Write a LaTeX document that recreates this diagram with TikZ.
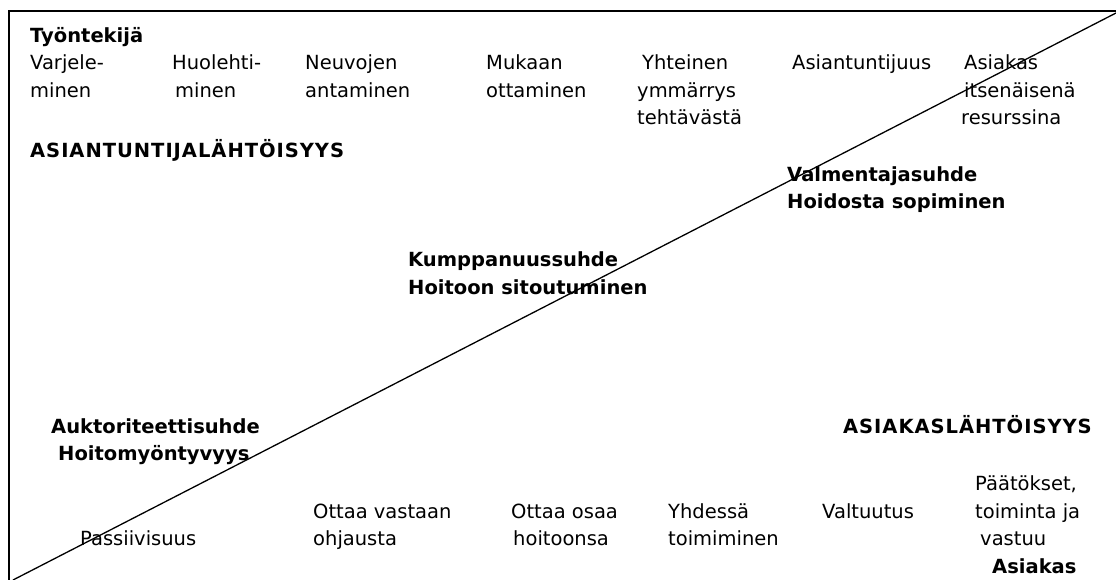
\documentclass[tikz,border=0pt]{standalone}
\usepackage{fontspec}
\setmainfont{DejaVu Sans}
\begin{document}
\begin{tikzpicture}[x=1pt,y=-1pt,
  txt/.style={anchor=base west, inner sep=0pt, font=\fontsize{19.5}{27.5}\selectfont},
  bld/.style={txt, font=\fontsize{19.5}{27.5}\selectfont\bfseries},
  caps/.style={bld, font=\fontsize{19.5}{27.5}\selectfont\bfseries\addfontfeature{LetterSpace=5}},
  frame/.style={line width=1.6pt, black},
  split/.style={line width=1.3pt, black}]
\useasboundingbox (0,0) rectangle (1116,580);

% frame (open to the right and bottom)
\coordinate (tl) at (9,11);
\coordinate (tr) at (1116,11);
\coordinate (bl) at (9,580);
\draw[frame] (bl) -- (tl) -- (tr);

% diagonal from the lower left to the upper right corner
\coordinate (dlo) at (13,580);
\coordinate (dhi) at (1116,13);
\draw[split] (dlo) -- (dhi);

% worker side, top row
\node[bld] (worker) at (30,42.5) {Työntekijä};
\node[txt] (t1a) at (30,70) {Varjele-};
\node[txt] (t1b) at (30,98) {minen};
\node[txt] (t2a) at (172,70) {Huolehti-};
\node[txt] (t2b) at (175,98) {minen};
\node[txt] (t3a) at (305,70) {Neuvojen};
\node[txt] (t3b) at (305,98) {antaminen};
\node[txt] (t4a) at (486,70) {Mukaan};
\node[txt] (t4b) at (486,98) {ottaminen};
\node[txt] (t5a) at (642,70) {Yhteinen};
\node[txt] (t5b) at (637,98) {ymmärrys};
\node[txt] (t5c) at (637,125) {tehtävästä};
\node[txt] (t6a) at (792,70) {Asiantuntijuus};
\node[txt] (t7a) at (964,70) {Asiakas};
\node[txt] (t7b) at (964,98) {itsenäisenä};
\node[txt] (t7c) at (961,125) {resurssina};

\node[caps] (expert) at (30,158) {ASIANTUNTIJALÄHTÖISYYS};

% relationship types along the diagonal
\node[bld] (coachA) at (787,182) {Valmentajasuhde};
\node[bld] (coachB) at (787,209) {Hoidosta sopiminen};
\node[bld] (partA) at (408,266) {Kumppanuussuhde};
\node[bld] (partB) at (408,294) {Hoitoon sitoutuminen};
\node[bld] (authA) at (51,433) {Auktoriteettisuhde};
\node[bld] (authB) at (58,460) {Hoitomyöntyvyys};

\node[caps, anchor=base east] (client) at (1092,433) {ASIAKASLÄHTÖISYYS};

% client side, bottom row
\node[txt] (b1a) at (80,545) {Passiivisuus};
\node[txt] (b2a) at (313,518) {Ottaa vastaan};
\node[txt] (b2b) at (313,545) {ohjausta};
\node[txt] (b3a) at (511,518) {Ottaa osaa};
\node[txt] (b3b) at (513,545) {hoitoonsa};
\node[txt] (b4a) at (668,518) {Yhdessä};
\node[txt] (b4b) at (668,545) {toimiminen};
\node[txt] (b5a) at (822,518) {Valtuutus};
\node[txt] (b6a) at (975,490) {Päätökset,};
\node[txt] (b6b) at (975,518) {toiminta ja};
\node[txt] (b6c) at (980,545) {vastuu};
\node[bld] (clientlbl) at (992,573) {Asiakas};
\end{tikzpicture}
\end{document}
